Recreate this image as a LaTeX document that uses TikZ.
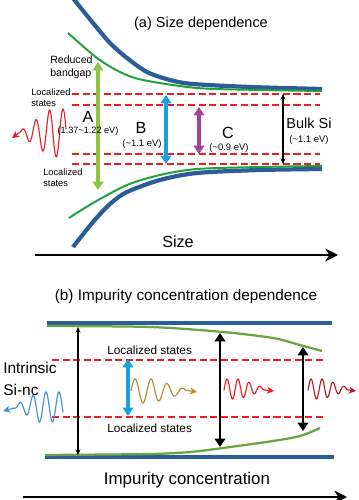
\documentclass[tikz,border=0pt]{standalone}
\usepackage{fontspec}
\setmainfont{Liberation Sans}
\usetikzlibrary{arrows.meta}
\usepackage{xcolor}

\definecolor{bandblue}{HTML}{2B5D99}
\definecolor{edgegreen}{HTML}{1FA23A}
\definecolor{olivegreen}{HTML}{6BA543}
\definecolor{levelred}{HTML}{EE1C25}
\definecolor{gapgreen}{HTML}{8CC63F}
\definecolor{gapblue}{HTML}{1BA0DE}
\definecolor{gappurple}{HTML}{A3439A}
\definecolor{wavered}{HTML}{ED1C24}
\definecolor{wavedark}{HTML}{B01E23}
\definecolor{wavegold}{HTML}{B8862B}
\definecolor{waveblue}{HTML}{3F8FD2}

\begin{document}
\begin{tikzpicture}[x=0.025cm,y=-0.025cm]
    \tikzstyle{band} = [draw=bandblue, line width=3pt]
    \tikzstyle{edgea} = [draw=edgegreen, line width=1.4pt]
    \tikzstyle{edgeb} = [draw=olivegreen, line width=1.6pt]
    \tikzstyle{level} = [draw=levelred, line width=1.4pt,
               dash pattern=on 5pt off 2.5pt]
    \tikzstyle{gap} = [line width=2.2pt,
               {Triangle[length=6pt,width=7.5pt]}-{Triangle[length=6pt,width=7.5pt]}]
    \tikzstyle{thingap} = [line width=0.8pt,
               {Stealth[length=4pt,width=3.5pt]}-{Stealth[length=4pt,width=3.5pt]}]
    \tikzstyle{axis} = [line width=2pt, -{Stealth[length=9pt,width=9pt]}]
    \tikzstyle{photon} = [line width=0.8pt, -{Stealth[length=5pt,width=5pt,inset=1.5pt]}]
    \tikzstyle{title} = [inner sep=0pt, font=\fontsize{10.3}{12}\selectfont]
    \tikzstyle{big} = [inner sep=0pt, font=\fontsize{11.5}{13}\selectfont]
    \tikzstyle{note} = [inner sep=0pt, align=left, font=\fontsize{6.6}{7.8}\selectfont]
    \tikzstyle{energy} = [inner sep=0pt, font=\fontsize{6.7}{8}\selectfont]

    \useasboundingbox (0,0) rectangle (358,500);

    % (a) band edges
    \draw[band] plot[smooth] coordinates {(72,-3) (93,23) (110,43) (127,58)
      (147,72) (170,80) (193,84) (250,87) (322,89)};
    \draw[edgea] plot[smooth] coordinates {(68,33) (97,58) (120,72)
      (143,80) (197,88) (260,90) (322,91)};
    \draw[band] plot[smooth] coordinates {(73,247) (93,222) (110,204) (127,192)
      (160,180) (197,173) (260,170) (322,169)};
    \draw[edgea] plot[smooth] coordinates {(69,218) (93,203) (127,185)
      (160,175) (197,169) (260,167) (322,166)};

    % localized states
    \foreach \y in {94,105,154,164}
      \draw[level] (72,\y) -- (320,\y);

    % transitions
    \coordinate (Atop) at (98,62);   \coordinate (Abot) at (98,190);
    \coordinate (Btop) at (166,95);  \coordinate (Bbot) at (166,164);
    \coordinate (Ctop) at (199,107); \coordinate (Cbot) at (199,154);
    \coordinate (Stop) at (283,94);  \coordinate (Sbot) at (283,164);
    \draw[gap, gapgreen] (Atop) -- (Abot);
    \draw[gap, gapblue] (Btop) -- (Bbot);
    \draw[gap, gappurple] (Ctop) -- (Cbot);
    \draw[thingap] (Stop) -- (Sbot);

    \draw[photon, wavered] plot[domain=66:20, samples=120, smooth]
      (\x, {133 - min(24, 0.7*(\x-17))*sin(360*((\x-59.625)/13.5))}) -- (12,138);

    \node[title] (titlea) at (201,24) {(a) Size dependence};
    \node[note, anchor=west, font=\fontsize{7.5}{9.2}\selectfont] (reduced)
      at (50,67.5) {Reduced\\bandgap};
    \node[note, anchor=west] (loctop) at (31,97.5) {Localized\\states};
    \node[note, anchor=west] (locbot) at (43,177.5) {Localized\\states};
    \node[big] (A) at (88,117) {A};
    \node[energy, font=\fontsize{6.5}{8}\selectfont] (Aev) at (88,131)
      {(1.37\textasciitilde 1.22 eV)};
    \node[big] (B) at (141,128) {B};
    \node[energy] (Bev) at (142,144) {(\textasciitilde 1.1 eV)};
    \node[big] (C) at (228,133) {C};
    \node[energy] (Cev) at (229,148) {(\textasciitilde 0.9 eV)};
    \node[title] (bulk) at (309,123) {Bulk Si};
    \node[energy] (bulkev) at (309,140) {(\textasciitilde 1.1 eV)};
    \node[big] (size) at (178,242) {Size};
    \draw[axis] (35,255) -- (338,255);

    % (b) band edges
    \draw[band] (47,323) -- (332,323);
    \draw[band] (45,457) -- (334,457);
    \draw[edgeb] plot[smooth] coordinates {(47,326) (150,327) (223,332)
      (273,338) (300,345) (322,351)};
    \draw[edgeb] plot[smooth] coordinates {(45,455) (150,454) (190,452)
      (223,448) (273,441) (300,436) (320,428)};
    \draw[level] (52,360) -- (323,360);
    \draw[level] (52,417) -- (323,417);

    \coordinate (Itop) at (78,327);  \coordinate (Ibot) at (78,455);
    \coordinate (Ltop) at (128,359); \coordinate (Lbot) at (128,416);
    \coordinate (Ptop) at (220,333); \coordinate (Pbot) at (220,447);
    \coordinate (Qtop) at (303,347); \coordinate (Qbot) at (303,431);
    \draw[thingap] (Itop) -- (Ibot);
    \draw[gap, gapblue] (Ltop) -- (Lbot);
    \draw[gap, line width=2pt] (Ptop) -- (Pbot);
    \draw[gap, line width=2pt] (Qtop) -- (Qbot);

    \draw[photon, waveblue] plot[domain=63:14, samples=120, smooth]
      (\x, {407 - min(15, 0.55*(\x-12))*sin(360*((\x-55.75)/13))}) -- (3,411);
    \draw[photon, wavegold] plot[domain=131:186, samples=120, smooth]
      (\x, {391 - min(12, 0.3*(192-\x))*sin(360*((\x-131)/16))}) -- (197,392);
    \draw[photon, wavered] plot[domain=224:265, samples=120, smooth]
      (\x, {389 - min(10, 0.35*(268-\x))*sin(360*((\x-224.25)/11))}) -- (274,391);
    \draw[photon, wavedark] plot[domain=308:349, samples=120, smooth]
      (\x, {389 - min(10, 0.35*(352-\x))*sin(360*((\x-308.25)/11))}) -- (356,391);

    \node[title, font=\fontsize{10.9}{13}\selectfont] (titleb) at (186,297)
      {(b) Impurity concentration dependence};
    \node[note, anchor=west, font=\fontsize{8.4}{10}\selectfont] (locup)
      at (107,350) {Localized states};
    \node[note, anchor=west, font=\fontsize{8.4}{10}\selectfont] (locdown)
      at (107,428) {Localized states};
    \node[note, anchor=west, font=\fontsize{11}{15}\selectfont] (intrinsic)
      at (3,379) {Intrinsic\\Si-nc};
    \node[big, font=\fontsize{12}{14}\selectfont] (impurity) at (187,480)
      {Impurity concentration};
    \draw[axis] (23,497) -- (347,497);

  \end{tikzpicture}
\end{document}
